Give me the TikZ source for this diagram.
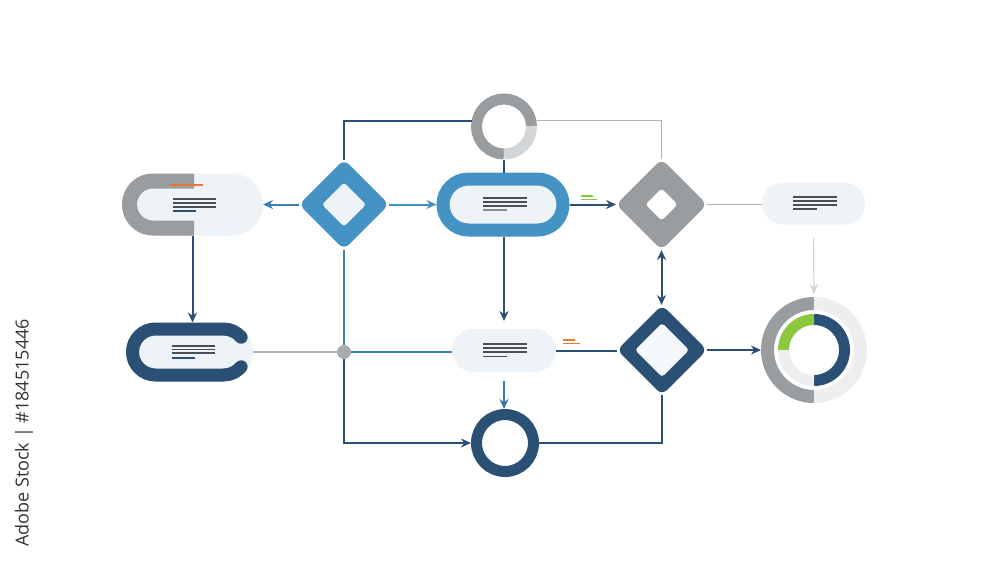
\documentclass[tikz,border=0pt]{standalone}
\usepackage{fontspec}
\newfontfamily\sidefont{Open Sans}
\usetikzlibrary{shapes.geometric,arrows.meta,calc}
\definecolor{navy}{HTML}{2A5075}
\definecolor{bblue}{HTML}{4593C4}
\definecolor{lblue}{HTML}{3A80B5}
\definecolor{midgray}{HTML}{9A9DA0}
\definecolor{lgray}{HTML}{D3D6D9}
\definecolor{vlgray}{HTML}{ECEEF0}
\definecolor{pillfill}{HTML}{EEF3F7}
\definecolor{txtline}{HTML}{4A4F55}
\definecolor{ggreen}{HTML}{8DC63F}
\definecolor{oorange}{HTML}{E8782F}
\definecolor{sidetext}{HTML}{333333}
\begin{document}
\begin{tikzpicture}[x=1pt,y=-1pt,
  every node/.style={inner sep=0pt, outer sep=0pt},
  pillbox/.style={rectangle, fill=pillfill},
  diabox/.style={diamond, aspect=1, rounded corners=7pt},
  innerdia/.style={diamond, aspect=1, rounded corners=3pt, fill=pillfill},
  conn/.style={line width=2pt, navy},
  thin/.style={line width=1.2pt, midgray!80},
  tip/.style={-{Stealth[length=10pt,width=9pt]}},
  tline/.style={line width=1.4pt, txtline},
]
\useasboundingbox (0,0) rectangle (1000,563);
\fill[white] (0,0) rectangle (1000,563);

% ---------- nodes ----------
% left pill (gray C)
\node[pillbox, rounded corners=31pt, minimum width=141pt, minimum height=62pt] (lpill) at (192.5,204.5) {};
\fill[midgray] (194,173.5) -- (153,173.5) arc[start angle=90,end angle=270,radius=31pt]
  -- (194,235.5) -- (194,220.5) -- (153,220.5) arc[start angle=270,end angle=90,radius=16pt]
  -- (194,188.5) -- cycle;
\draw[line width=2pt, oorange] (170,185) -- (203,185);
\foreach \yy in {199,203,207} \draw[tline] (173,\yy) -- (216,\yy);
\draw[line width=1.4pt, navy] (173,211) -- (196,211);

% navy pill
\node[pillbox, rounded corners=29.5pt, minimum width=127pt, minimum height=59pt] (npill) at (189.5,352) {};
\draw[navy, line width=13pt, line cap=round]
  ($(223.5,352)+(40:23pt)$) arc[start angle=40,end angle=90,radius=23pt]
  -- (155.5,329) arc[start angle=90,end angle=270,radius=23pt]
  -- (223.5,375) arc[start angle=270,end angle=320,radius=23pt];
\foreach \yy in {346,349.5,353} \draw[tline] (172,\yy) -- (215,\yy);
\draw[line width=1.4pt, navy] (172,358) -- (195,358);

% blue diamond
\node[diabox, fill=bblue, minimum width=90pt, minimum height=90pt] (bdia) at (344,204.5) {};
\node[innerdia, minimum width=44pt, minimum height=44pt] (bdiain) at (344,204.5) {};

% top ring
\node[circle, minimum size=66pt] (topring) at (504,126.5) {};
\draw[midgray, line width=11pt] ($(topring.center)+(0:27.5pt)$) arc[start angle=0,end angle=270,radius=27.5pt];
\draw[lgray, line width=11pt] ($(topring.center)+(-90:27.5pt)$) arc[start angle=-90,end angle=0,radius=27.5pt];

% center blue pill
\node[pillbox, draw=bblue, line width=13pt, rounded corners=25.5pt, minimum width=120pt, minimum height=51pt, outer sep=6.5pt] (cpill) at (503,204.5) {};
\foreach \yy in {198,202,206} \draw[tline] (483,\yy) -- (527,\yy);
\draw[line width=1.4pt, midgray!90!black] (483,210) -- (507,210);

% gray diamond
\node[diabox, fill=midgray, minimum width=91pt, minimum height=91pt] (gdia) at (661.5,204.5) {};
\node[innerdia, fill=white, minimum width=32pt, minimum height=32pt] (gdiain) at (661.5,204.5) {};

% right pill
\node[pillbox, rounded corners=21pt, minimum width=103pt, minimum height=42pt] (rpill) at (813.5,203.5) {};
\foreach \yy in {197,201,205} \draw[tline] (793,\yy) -- (837,\yy);
\draw[tline] (793,209) -- (817,209);

% donut
\node[circle, minimum size=106pt] (donut) at (814,350) {};
\draw[midgray, line width=13pt] ($(donut.center)+(90:46.5pt)$) arc[start angle=90,end angle=270,radius=46.5pt];
\draw[vlgray, line width=13pt] ($(donut.center)+(-90:46.5pt)$) arc[start angle=-90,end angle=90,radius=46.5pt];
\draw[navy, line width=11pt] ($(donut.center)+(-90:30.5pt)$) arc[start angle=-90,end angle=90,radius=30.5pt];
\draw[ggreen, line width=11pt] ($(donut.center)+(90:30.5pt)$) arc[start angle=90,end angle=180,radius=30.5pt];
\draw[vlgray, line width=11pt] ($(donut.center)+(180:30.5pt)$) arc[start angle=180,end angle=270,radius=30.5pt];

% navy diamond
\node[diabox, fill=navy, minimum width=90pt, minimum height=90pt] (ndia) at (662,350) {};
\node[innerdia, fill=pillfill!60!white, minimum width=54pt, minimum height=54pt] (ndiain) at (662,350) {};

% bottom pill
\node[pillbox, rounded corners=21.5pt, minimum width=104pt, minimum height=43pt] (bpill) at (504,350.5) {};
\foreach \yy in {344,348,352} \draw[tline] (483,\yy) -- (527,\yy);
\draw[tline] (483,356.5) -- (507,356.5);

% bottom circle
\node[circle, draw=navy, line width=11pt, minimum size=57pt, outer sep=5.5pt] (bcirc) at (505,443) {};

% junction dot
\node[circle, fill=midgray!85, minimum size=14pt] (dot) at (344,352) {};

% small accent marks
\draw[line width=1.5pt, ggreen] (581,196) -- (593,196);
\draw[line width=1.5pt, ggreen] (581,199.5) -- (597,199.5);
\draw[line width=1.5pt, oorange] (563,340) -- (575,340);
\draw[line width=1.5pt, oorange] (563,343.5) -- (580,343.5);

% ---------- connectors ----------
\draw[conn] (bdia.north) |- (topring.170);
\draw[thin] (topring.10) -| (gdia.north);
\draw[conn] (topring.south) -- (topring.south |- cpill.north);
\draw[line width=2pt, bblue, tip] (bdia.east) -- (cpill.west);
\draw[line width=2pt, lblue, tip] (bdia.west) -- (lpill.east);
\draw[line width=1.6pt, lblue] (bdia.south) -- (dot);
\draw[conn, tip] (lpill.south) -- (lpill.south |- npill.north);
\draw[thin] (npill.east) -- (dot);
\draw[line width=1.8pt, lblue] (dot) -- (dot -| bpill.west);
\draw[conn, tip] (dot) |- (bcirc.west);
\draw[conn, tip, shorten >=8pt] (topring.south |- cpill.south) -- (topring.south |- bpill.north);
\draw[line width=2pt, lblue!85!navy, tip, shorten <=9pt] (bpill.south) -- (bpill.south |- bcirc.north);
\draw[conn] (bcirc.east) -| (ndia.south);
\draw[conn, tip] (cpill.east) -- (gdia.west);
\draw[thin] (gdia.east) -- (gdia.east -| rpill.west);
\draw[conn, {Stealth[length=10pt,width=9pt]}-{Stealth[length=10pt,width=9pt]}] (gdia.south) -- (gdia.south |- ndia.north);
\draw[line width=1.2pt, lgray, -{Stealth[length=10pt,width=9pt]}, shorten <=13pt, shorten >=3pt] (rpill.south) -- (donut.north);
\draw[conn] (bpill.east) -- (bpill.east -| ndia.west);
\draw[conn, tip] (ndia.east) -- (donut.west);

% side caption
\node[rotate=90, font=\sidefont\fontsize{18}{18}\selectfont, text=sidetext] (side) at (24,433) {Adobe Stock | \#184515446};
\end{tikzpicture}
\end{document}
